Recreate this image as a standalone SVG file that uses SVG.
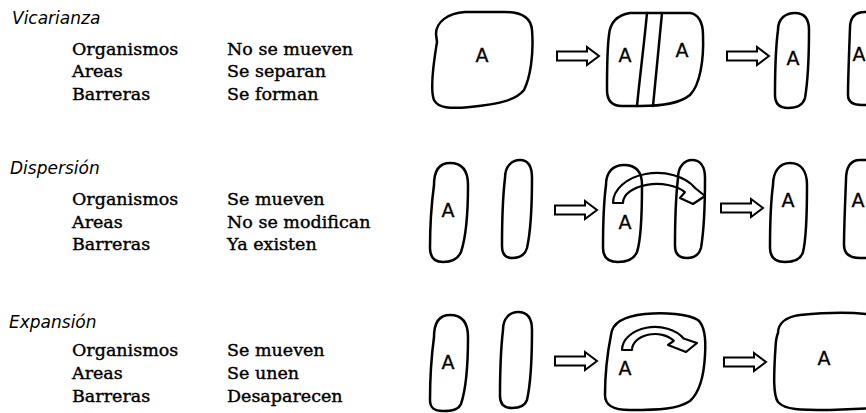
<svg xmlns="http://www.w3.org/2000/svg" width="866" height="413" viewBox="0 0 866 413">
<style>
.h{font-family:"DejaVu Sans","Liberation Sans",sans-serif;font-style:italic;font-size:17px;fill:#000}
.t{font-family:"DejaVu Serif","Liberation Serif",serif;font-size:17.5px;fill:#000;stroke:#000;stroke-width:0.4}
.a{font-family:"DejaVu Sans","Liberation Sans",sans-serif;font-size:19px;fill:#000;text-anchor:middle;stroke:#000;stroke-width:0.3}
.s{fill:none;stroke:#000;stroke-width:2.5;stroke-linejoin:round;stroke-linecap:round}
.blk{fill:#fff;stroke:#000;stroke-width:2;stroke-linejoin:miter}
.cv{fill:none;stroke:#000;stroke-width:2.2;stroke-linejoin:round}
</style>
<defs>
<path id="blk" d="M0,-4.5 H30 V-9 L42,0 L30,9 V4.5 H0 Z"/>
</defs>
<rect width="866" height="413" fill="#fff"/>

<g id="labels">
<text class="h" x="12" y="24">Vicarianza</text>
<text class="t" x="72" y="55">Organismos</text>
<text class="t" x="72" y="77">Areas</text>
<text class="t" x="72" y="100">Barreras</text>
<text class="t" x="227" y="55">No se mueven</text>
<text class="t" x="227" y="77">Se separan</text>
<text class="t" x="227" y="100">Se forman</text>

<text class="h" x="10" y="174">Dispersión</text>
<text class="t" x="72" y="205">Organismos</text>
<text class="t" x="72" y="228">Areas</text>
<text class="t" x="72" y="250">Barreras</text>
<text class="t" x="227" y="205">Se mueven</text>
<text class="t" x="227" y="228">No se modifican</text>
<text class="t" x="227" y="250">Ya existen</text>

<text class="h" x="9" y="328">Expansión</text>
<text class="t" x="72" y="356">Organismos</text>
<text class="t" x="72" y="379">Areas</text>
<text class="t" x="72" y="402">Barreras</text>
<text class="t" x="227" y="356">Se mueven</text>
<text class="t" x="227" y="379">Se unen</text>
<text class="t" x="227" y="402">Desaparecen</text>
</g>

<!-- Row 1: Vicarianza -->
<g id="v1">
<path class="s" d="M436,34 C436,22 448,13 465,12 L505,12 C522,12 531,18 532,30 C534,55 530,78 524,90 C516,100 500,104 470,107 C450,109 438,108 434,100 C430,90 434,60 437,42 Z"/>
<text class="a" x="482" y="62">A</text>
</g>
<g id="v2">
<path class="s" d="M609,35 C610,22 618,15 630,13 L690,13 C698,14 703,22 703,35 C704,60 700,85 690,95 C680,103 665,106 640,106 L622,106 C612,106 607,100 607,90 C607,70 607,50 609,35 Z"/>
<path class="s" d="M647,13 C644,45 640,75 637,106"/>
<path class="s" d="M662,13 C659,45 656,75 653,106"/>
<text class="a" x="625" y="62">A</text>
<text class="a" x="682" y="57">A</text>
</g>
<g id="v3">
<path class="s" d="M778,30 C778,18 786,13 795,13 C805,13 809,20 809,30 C809,55 808,80 805,98 C803,105 797,108 788,108 C779,108 775,103 775,95 C775,70 776,45 778,30 Z"/>
<text class="a" x="793" y="65">A</text>
</g>
<g id="v4">
<path class="s" d="M890,12 L865,12 C855,12 850,18 850,28 C849,55 848,80 848,95 C848,102 853,105 862,105 L890,105"/>
<text class="a" x="859" y="61">A</text>
</g>

<!-- Row 2: Dispersión -->
<g id="d1">
<path class="s" d="M434,185 C434,170 440,163 450,163 C462,163 468,170 468,185 C468,215 465,240 461,252 C458,259 452,262 443,262 C434,262 430,257 430,248 C430,225 432,200 434,185 Z"/>
<text class="a" x="448" y="217">A</text>
</g>
<g id="d2">
<path class="s" d="M505,178 C505,166 512,160 520,160 C528,160 532,166 532,178 C532,205 531,230 527,248 C525,255 520,258 512,258 C505,258 502,254 502,246 C502,220 503,195 505,178 Z"/>
</g>
<g id="d3">
<path class="s" d="M606,185 C606,172 613,165 624,165 C636,165 642,172 642,185 C642,215 641,240 637,252 C634,259 628,262 618,262 C608,262 603,257 603,248 C603,225 604,200 606,185 Z"/>
<text class="a" x="625" y="229">A</text>
</g>
<g id="d4">
<path class="s" d="M678,178 C678,166 685,160 692,160 C700,160 705,166 705,178 C705,205 704,230 701,248 C699,255 694,258 687,258 C679,258 675,254 675,246 C675,220 676,195 678,178 Z"/>
</g>
<g id="d5">
<path class="s" d="M773,185 C773,171 780,163 790,163 C801,163 807,171 807,185 C807,215 806,240 803,252 C801,259 795,262 785,262 C775,262 770,257 770,248 C770,225 771,200 773,185 Z"/>
<text class="a" x="788" y="207">A</text>
</g>
<g id="d6">
<path class="s" d="M890,160 L860,160 C850,160 846,168 846,180 C845,205 844,230 844,245 C844,254 850,258 860,258 L890,258"/>
<text class="a" x="858" y="207">A</text>
</g>

<!-- Row 3: Expansión -->
<g id="e1">
<path class="s" d="M434,337 C434,322 440,315 450,315 C462,315 468,322 468,337 C468,367 465,392 461,404 C458,410 452,411 443,411 C434,411 430,408 430,400 C430,377 432,352 434,337 Z"/>
<text class="a" x="448" y="369">A</text>
</g>
<g id="e2">
<path class="s" d="M503,330 C503,318 510,312 518,312 C527,312 532,318 532,330 C532,357 531,382 527,400 C525,406 520,408 512,408 C504,408 500,404 500,396 C500,372 501,347 503,330 Z"/>
</g>
<g id="e3">
<path class="s" d="M611,335 C612,322 625,316 645,314 C665,312 688,314 698,320 C705,326 706,340 705,355 C704,375 700,392 690,401 C678,409 660,410 630,410 C612,410 605,405 605,395 C605,375 607,355 611,335 Z"/>
<text class="a" x="625" y="375">A</text>
</g>
<g id="e4">
<path class="s" d="M880,316 C860,312 830,312 800,315 C785,317 778,324 778,333 C775,340 776,345 775,355 C774,375 773,395 778,402 C785,410 800,410 830,410 L880,408"/>
<text class="a" x="824" y="365">A</text>
</g>

<g id="connectors">
<use href="#blk" class="blk" x="557" y="56"/>
<use href="#blk" class="blk" x="727" y="56"/>
<use href="#blk" class="blk" x="555" y="210"/>
<use href="#blk" class="blk" x="721" y="208"/>
<use href="#blk" class="blk" x="555" y="361"/>
<use href="#blk" class="blk" x="724" y="362"/>
</g>

<g id="motion">
<path class="cv" d="M613,203 A44 30 0 0 1 695.1,188 L705,196 L693,204 L680,198 L684.9,192.1 A34 19 0 0 0 623,203 Z"/>
<path class="cv" d="M622,350 A33 23 0 0 1 683.6,338.5 L697,343 L686,352 L668,345 L673.8,340.8 A23 16 0 0 0 632,350 Z"/>
</g>
</svg>
